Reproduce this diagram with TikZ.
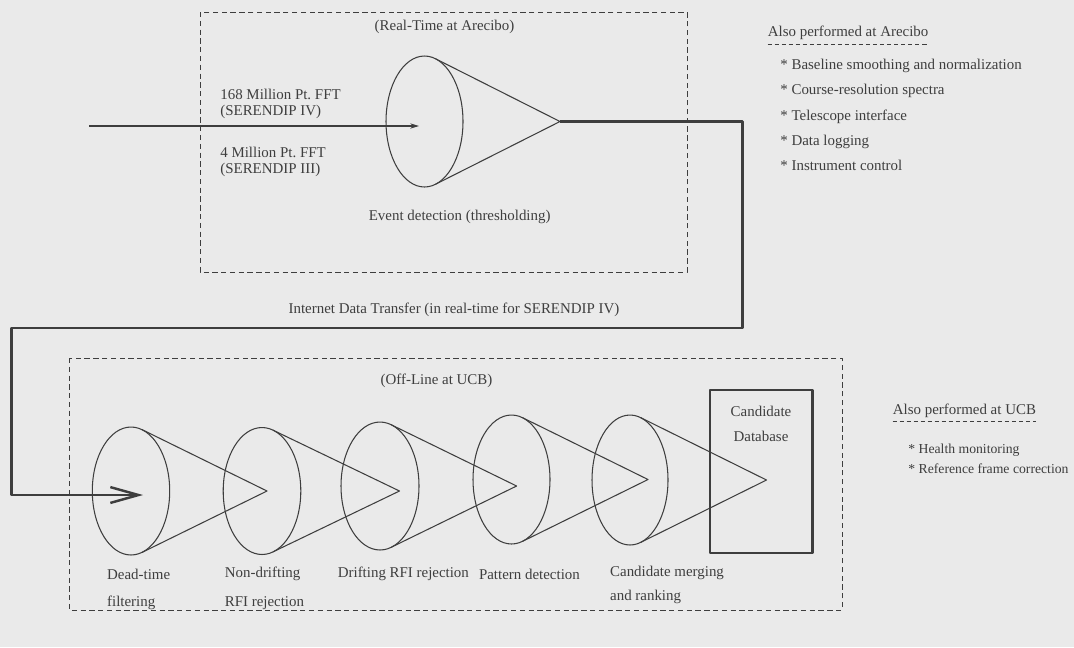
\documentclass[tikz,border=0pt]{standalone}
\usepackage{fontspec}
\setmainfont{Liberation Serif}
\usepackage{tikz}
\usetikzlibrary{arrows.meta}
\definecolor{ink}{RGB}{62,62,62}
\definecolor{paper}{RGB}{234,234,234}

\begin{document}
\begin{tikzpicture}[x=0.02cm,y=-0.02cm,>={Stealth[length=5pt,width=3pt]},line join=round,
  every node/.style={text=ink,font=\fontsize{8.5}{10}\selectfont,inner sep=0pt},
  lbl/.style={anchor=west},
  small/.style={font=\fontsize{7.8}{9}\selectfont},
  cone/.style={draw=ink,line width=0.6pt},
  groupbox/.style={draw=ink,line width=0.5pt,dash pattern=on 3pt off 2pt},
  flow/.style={draw=ink,line width=1.4pt},
  dbbox/.style={draw=ink,line width=1.2pt,minimum width=2.05cm,minimum height=3.26cm},
  underdash/.style={draw=ink,line width=0.5pt,dash pattern=on 2.5pt off 1.5pt}]

%% page, scanned grey
\fill[paper] (0,0) rectangle (1074,647);
\useasboundingbox (0,0) rectangle (1074,647);

%% ---------------- real-time part at Arecibo ----------------
\draw[groupbox] (200,12) rectangle (687,272);
\node (realTime) at (444.5,27) {(Real-Time at Arecibo)};
\node[lbl] (fftIV)  at (220,94)  {168 Million Pt.\ FFT};
\node[lbl] (serIV)  at (220,112) {(SERENDIP IV)};
\node[lbl] (fftIII) at (220,152) {4 Million Pt.\ FFT};
\node[lbl] (serIII) at (220,170) {(SERENDIP III)};

%% event detection cone
\coordinate (apexA) at (560,121.5);
\draw[cone] (424.5,121.5) ellipse [x radius=0.77cm, y radius=1.31cm];
\draw[cone] (435.4,58.7) -- (apexA) -- (435.4,184.3);
\node[lbl] (eventDet) at (368.5,217) {Event detection (thresholding)};

%% data coming in
\coordinate (feed) at (89,126);
\coordinate (tipA) at (419,126);
\draw[draw=ink,line width=0.6pt,->] (feed) -- (tipA);

%% side list
\node[lbl] (alsoArecibo) at (767.5,33.3) {Also performed at Arecibo};
\draw[underdash] ([yshift=-2pt]alsoArecibo.south west) -- ([yshift=-2pt]alsoArecibo.south east);
\node[lbl] (areItemA) at (780,65.7)  {* Baseline smoothing and normalization};
\node[lbl] (areItemB) at (780,90.7)  {* Course-resolution spectra};
\node[lbl] (areItemC) at (780,117.3) {* Telescope interface};
\node[lbl] (areItemD) at (780,141.7) {* Data logging};
\node[lbl] (areItemE) at (780,165.7) {* Instrument control};

%% ---------------- transfer to Berkeley ----------------
\node (netXfer) at (454,310) {Internet Data Transfer (in real-time for SERENDIP IV)};
\coordinate (turnR) at (742.7,328);
\coordinate (turnL) at (11.7,328);
\coordinate (tipB) at (143,495);

%% ---------------- off-line part at UCB ----------------
\draw[groupbox] (69,358) rectangle (842,610);
\node (offLine) at (436.5,381) {(Off-Line at UCB)};

%% candidate database
\node[dbbox] (candDB) at (761.25,471.5) {};
\node (candTop) at (761,411.7) {Candidate};
\node (candBot) at (761,436.7) {Database};

%% dead-time filtering
\coordinate (apexB) at (267,491);
\draw[cone] (131,491) ellipse [x radius=0.774cm, y radius=1.28cm];
\draw[cone] (142,429.6) -- (apexB) -- (142,552.4);
%% non-drifting rfi
\coordinate (apexC) at (399.5,491);
\draw[cone] (262,491) ellipse [x radius=0.776cm, y radius=1.27cm];
\draw[cone] (272.9,430.1) -- (apexC) -- (272.9,551.9);
%% drifting rfi
\coordinate (apexD) at (516.6,486);
\draw[cone] (380,486) ellipse [x radius=0.78cm, y radius=1.28cm];
\draw[cone] (391.1,424.7) -- (apexD) -- (391.1,547.3);
%% pattern detection
\coordinate (apexE) at (648,479.5);
\draw[cone] (511.5,479.5) ellipse [x radius=0.77cm, y radius=1.29cm];
\draw[cone] (522.4,417.6) -- (apexE) -- (522.4,541.4);
%% merging and ranking
\coordinate (apexF) at (766.5,480);
\draw[cone] (630,480) ellipse [x radius=0.76cm, y radius=1.3cm];
\draw[cone] (640.6,417.6) -- (apexF) -- (640.6,542.4);

%% thick data path, Arecibo to UCB
\draw[flow,-{Straight Barb[length=16pt,width=9pt]}] (apexA) -| (turnR) -- (turnL) |- (tipB);

%% stage names
\node[lbl] (deadA)     at (106.8,574)   {Dead-time};
\node[lbl] (deadB)     at (106.8,602.7) {filtering};
\node[lbl] (nondriftA) at (224.5,574)   {Non-drifting};
\node[lbl] (nondriftB) at (224.5,602.7) {RFI rejection};
\node[lbl] (drift)     at (337.5,574)   {Drifting RFI rejection};
\node[lbl] (pattern)   at (478.7,574)   {Pattern detection};
\node[lbl] (mergeA)    at (609.8,573.3) {Candidate merging};
\node[lbl] (mergeB)    at (609.8,596.7) {and ranking};

%% side list
\node[lbl] (alsoUCB) at (892.5,410.7) {Also performed at UCB};
\draw[underdash] ([yshift=-2pt]alsoUCB.south west) -- ([yshift=-2pt]alsoUCB.south east);
\node[lbl,small] (ucbItemA) at (908,450)   {* Health monitoring};
\node[lbl,small] (ucbItemB) at (908,468.3) {* Reference frame correction};

\end{tikzpicture}
\end{document}
